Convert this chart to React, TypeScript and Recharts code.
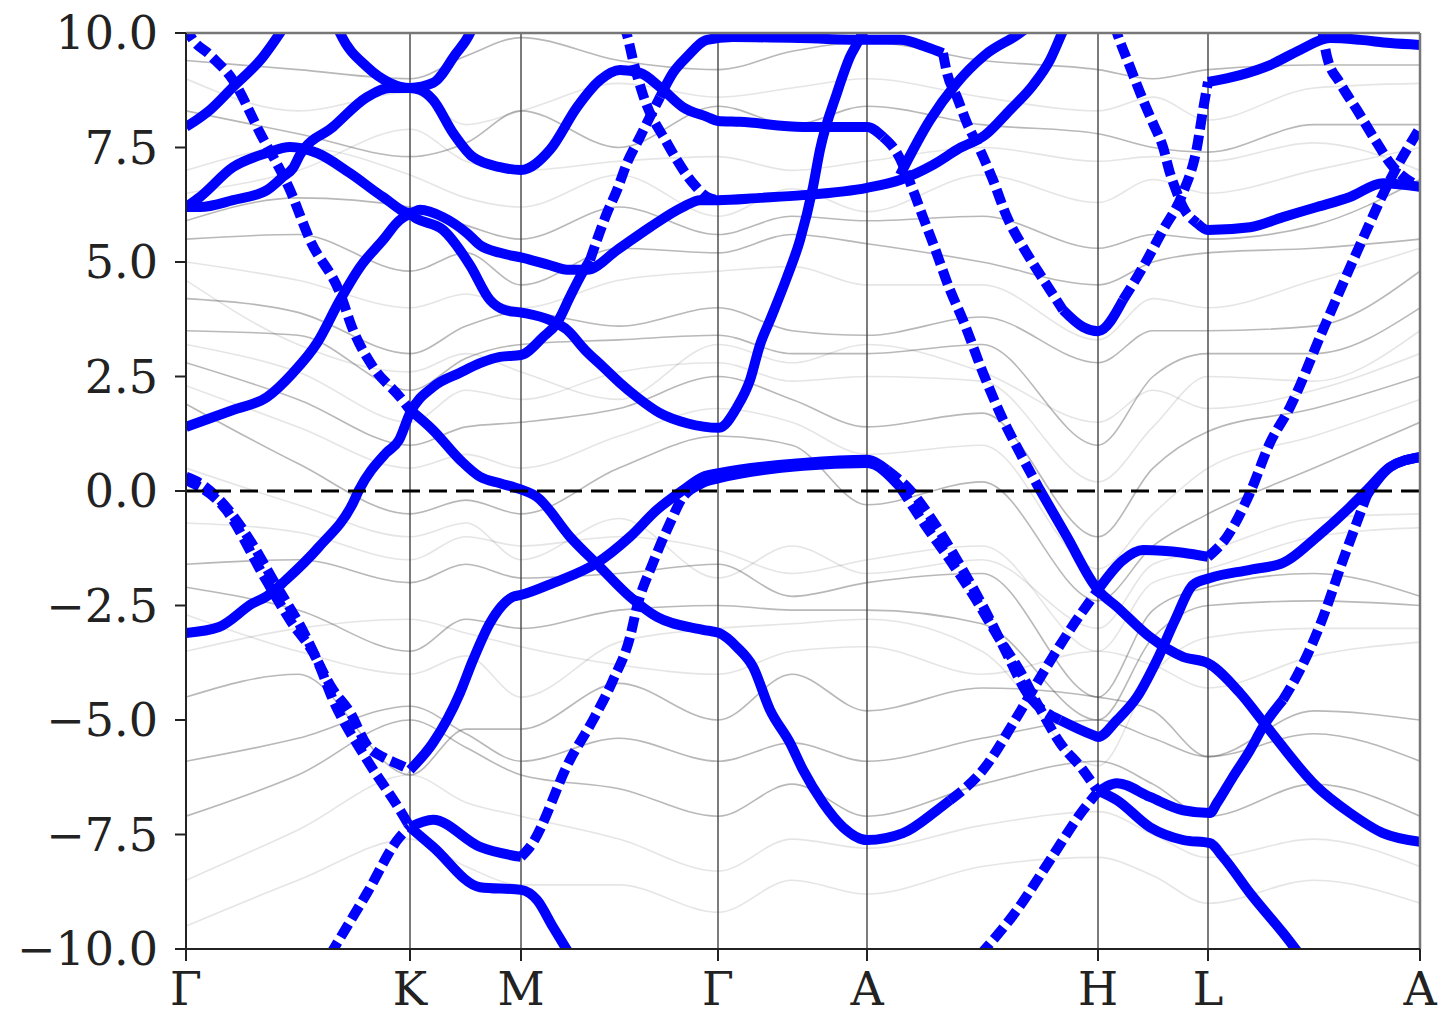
/** Band structure along Γ–K–M–Γ–A–H–L–A: projected (blue) bands over the full set (grey). */

import { LineChart, Line, XAxis, YAxis, ReferenceLine } from "recharts";

type Pt = [number, number];

// path positions of the high-symmetry points
const kTicks = [0, 224, 335, 532, 681, 912, 1022, 1234];
const kLabels = ["Γ", "K", "M", "Γ", "A", "H", "L", "A"];
const eTicks = [-10, -7.5, -5, -2.5, 0, 2.5, 5, 7.5, 10];

// grey bands, sampled at these path positions
const greyK = [0, 112, 224, 280, 335, 433, 532, 606, 681, 796, 912, 967, 1022, 1128, 1234];
const greyDark = [
  [9.4, 9.2, 9.0, 9.5, 9.9, 9.4, 9.2, 9.6, 9.8, 9.4, 9.2, 9.0, 9.2, 9.3, 9.3],
  [8.3, 7.8, 7.3, 7.6, 8.3, 7.5, 8.4, 8.0, 8.4, 8.0, 7.8, 7.5, 7.4, 8.0, 8.0],
  [5.9, 6.4, 6.2, 5.8, 5.5, 6.2, 5.6, 6.0, 5.9, 6.0, 5.3, 5.6, 5.5, 5.8, 6.8],
  [5.5, 5.6, 4.8, 5.2, 4.5, 5.3, 5.2, 5.6, 5.4, 5.0, 4.5, 5.0, 5.2, 5.3, 5.5],
  [4.2, 3.9, 3.0, 3.6, 3.9, 3.6, 4.0, 3.5, 3.4, 3.8, 2.8, 3.5, 3.5, 3.6, 4.8],
  [3.5, 3.4, 2.2, 2.9, 3.2, 3.3, 3.4, 3.0, 3.0, 3.2, 1.0, 2.5, 3.0, 3.0, 4.0],
  [2.8, 2.0, 1.0, 1.4, 1.5, 1.8, 2.5, 2.0, 1.4, 1.7, -1.0, 0.5, 1.3, 1.8, 2.5],
  [1.9, 0.6, -0.5, -0.2, -0.5, 0.5, 1.2, 1.0, -0.3, 0.2, -2.4, -1.2, -0.5, 0.5, 1.5],
  [-1.6, -1.5, -2.0, -1.6, -1.9, -1.8, -1.6, -2.3, -2.0, -1.8, -4.5, -2.6, -2.1, -1.8, -2.3],
  [-2.1, -2.6, -3.5, -2.8, -3.0, -2.6, -2.5, -2.6, -2.6, -2.9, -5.0, -3.2, -2.5, -2.4, -2.5],
  [-5.9, -5.4, -4.7, -5.3, -5.9, -5.4, -5.9, -5.5, -5.9, -5.4, -5.0, -5.4, -5.8, -5.3, -5.9],
  [-7.1, -6.2, -5.0, -5.6, -6.2, -6.5, -7.1, -6.4, -7.1, -6.4, -5.9, -6.4, -7.1, -6.4, -7.1],
  [-4.5, -4.0, -6.2, -5.2, -5.2, -4.2, -5.0, -4.0, -4.8, -4.3, -4.5, -4.8, -5.8, -4.8, -5.0],
];
const greyLight = [
  [9.0, 8.3, 8.7, 8.0, 8.3, 8.9, 8.6, 8.8, 9.0, 8.6, 8.3, 8.6, 8.1, 8.8, 8.9],
  [7.0, 7.5, 6.9, 6.4, 6.2, 6.9, 6.0, 6.6, 6.1, 6.9, 6.3, 6.8, 6.5, 7.0, 7.5],
  [6.5, 7.0, 7.9, 7.2, 7.0, 7.2, 7.3, 7.0, 7.2, 7.5, 7.2, 7.3, 7.2, 7.6, 7.0],
  [5.0, 4.6, 4.0, 4.3, 4.0, 4.6, 4.8, 4.9, 4.5, 4.5, 3.3, 4.2, 4.0, 4.6, 5.3],
  [3.2, 2.6, 1.5, 2.2, 2.0, 2.6, 2.8, 2.4, 2.5, 2.4, 0.2, 1.4, 2.5, 2.4, 3.5],
  [2.3, 1.4, 0.5, 0.8, 0.5, 1.2, 1.8, 1.5, 0.8, 1.0, -1.7, -0.5, 0.5, 1.2, 2.0],
  [4.6, 3.2, 2.6, 3.0, 2.6, 2.0, 3.2, 2.8, 3.2, 2.6, 1.5, 2.2, 1.8, 2.2, 3.0],
  [0.5, -0.3, -1.0, -0.7, -1.5, -0.6, -1.9, -1.2, -1.8, -1.5, -3.0, -1.6, -1.3, -0.6, -0.5],
  [-0.7, -0.9, -1.5, -1.0, -1.2, -1.0, -1.3, -1.8, -1.5, -1.2, -3.5, -2.0, -1.7, -1.0, -0.8],
  [-2.7, -3.5, -4.0, -3.6, -4.5, -3.3, -3.0, -2.9, -2.8, -3.5, -6.0, -4.0, -3.2, -3.0, -3.0],
  [-3.5, -3.0, -2.8, -3.1, -3.4, -3.8, -4.0, -3.5, -3.4, -4.0, -3.5, -3.8, -4.3, -3.6, -3.3],
  [-8.5, -7.4, -6.2, -6.8, -7.1, -7.6, -8.3, -7.6, -7.8, -7.3, -7.0, -7.5, -8.0, -7.6, -8.2],
  [-9.5, -8.5, -7.6, -8.2, -8.6, -8.6, -9.2, -8.5, -8.8, -8.2, -8.0, -8.4, -9.0, -8.5, -9.0],
];

// blue (projected) bands as [k, E] points
const bandA1: Pt[] = [
  [0, 10.15], [4, 9.96], [24, 9.52], [47, 8.97], [74, 7.82], [104, 6.57], [124, 5.48], [154, 4.32],
  [167, 3.52], [187, 2.71], [214, 2.05], [224, 1.77], [247, 1.33], [274, 0.68], [294, 0.31], [314, 0.17],
  [334, 0.04], [351, -0.13], [384, -1.0], [414, -1.66], [444, -2.31], [471, -2.75], [517, -3.03], [533, -3.1],
  [551, -3.41], [567, -3.84], [584, -4.78], [604, -5.5], [617, -6.09], [637, -6.81], [657, -7.34], [681, -7.62],
  [717, -7.47], [751, -6.97], [764, -6.75], [797, -6.09], [831, -4.93], [857, -3.97], [884, -3.03], [907, -2.31],
  [912, -2.16], [937, -1.51], [957, -1.29], [997, -1.35], [1022, -1.44], [1041, -1.0], [1064, -0.04], [1084, 1.05],
  [1104, 1.83], [1137, 3.52], [1174, 5.37], [1204, 6.79], [1234, 7.93],
];
const bandB: Pt[] = [[0, 7.95], [24, 8.32], [47, 8.82], [77, 9.48], [94, 10.0], [100, 10.2]];
const bandC1: Pt[] = [
  [0, 6.2], [14, 6.42], [47, 7.07], [81, 7.38], [104, 7.51], [131, 7.38], [164, 6.94], [197, 6.42], [224, 6.07],
  [234, 6.14], [257, 5.98], [281, 5.63], [294, 5.37], [314, 5.2], [337, 5.09], [364, 4.93], [381, 4.83], [401, 4.83],
  [431, 5.26], [464, 5.76], [497, 6.2], [514, 6.35], [532, 6.35], [574, 6.4], [617, 6.46], [681, 6.62], [714, 6.79],
  [747, 7.12], [774, 7.49], [799, 7.77], [824, 8.32], [847, 8.86], [864, 9.41], [876, 10.0], [880, 10.2],
];
const bandC2: Pt[] = [
  [0, 6.2], [14, 6.2], [47, 6.35], [81, 6.57], [97, 6.86], [107, 7.05], [114, 7.34], [147, 7.95], [181, 8.6],
  [204, 8.8], [224, 8.8], [234, 8.76], [247, 8.54], [267, 7.82], [287, 7.29], [314, 7.07], [335, 7.01], [364, 7.45],
  [391, 8.38], [414, 8.97], [434, 9.19], [454, 9.13], [474, 8.82], [497, 8.38], [521, 8.17], [532, 8.08], [554, 8.06],
  [617, 7.95], [681, 7.95], [697, 7.73], [711, 7.38], [727, 6.57], [737, 5.98], [747, 5.41], [764, 4.39], [777, 3.73],
  [797, 2.58], [814, 1.7], [834, 0.83], [854, 0.02], [881, -1.0], [907, -2.01], [912, -2.16], [931, -2.53],
  [964, -3.19], [997, -3.62], [1022, -3.76], [1054, -4.41], [1081, -5.15], [1131, -6.46], [1164, -7.03],
  [1197, -7.47], [1234, -7.66],
];
const bandU: Pt[] = [[150, 10.2], [154, 10.0], [181, 9.26], [204, 8.91], [224, 8.8], [247, 8.91], [269, 9.52], [284, 10.0], [288, 10.2]];
const bandG1: Pt[] = [
  [0, 1.4], [47, 1.77], [81, 2.05], [107, 2.58], [131, 3.23], [154, 4.17], [174, 4.89], [197, 5.48], [214, 5.92],
  [224, 6.03], [231, 5.94], [257, 5.7], [284, 4.93], [304, 4.17], [319, 3.95], [337, 3.89], [364, 3.73], [381, 3.52],
  [399, 3.08], [417, 2.71], [434, 2.36], [451, 2.05], [474, 1.7], [501, 1.48], [533, 1.38], [551, 1.83], [564, 2.42],
  [574, 3.19], [584, 3.73], [601, 4.67], [614, 5.48], [627, 6.64], [634, 7.45], [651, 8.69], [664, 9.48], [674, 9.89],
  [680, 10.2],
];
const bandTop: Pt[] = [
  [0, -3.1], [33, -2.97], [67, -2.45], [80, -2.31], [100, -1.94], [133, -1.22], [167, -0.26], [173, 0.02], [200, 0.83],
  [213, 1.11], [224, 1.7], [247, 2.27], [274, 2.58], [294, 2.79], [314, 2.93], [335, 2.97], [357, 3.36], [371, 3.67],
  [384, 4.24], [394, 4.67], [404, 5.04], [421, 6.07], [431, 6.57], [441, 7.16], [454, 7.73], [464, 8.17], [474, 8.6],
  [487, 9.13], [501, 9.48], [521, 9.85], [547, 9.91], [614, 9.89], [681, 9.85], [714, 9.85], [741, 9.69], [757, 9.56],
  [761, 9.13], [771, 8.6], [781, 8.03], [794, 7.45], [807, 6.79], [821, 5.98], [837, 5.33], [851, 4.83], [864, 4.39],
  [877, 3.95], [897, 3.58], [912, 3.49], [937, 4.17], [957, 4.89], [977, 5.7], [997, 6.51], [1011, 7.51], [1017, 8.32],
  [1022, 8.93], [1054, 9.08], [1084, 9.3], [1114, 9.63], [1144, 9.89], [1174, 9.85], [1204, 9.78], [1234, 9.74],
];
const bandDesc: Pt[] = [[437, 10.2], [441, 9.96], [447, 9.41], [457, 8.65], [481, 7.6], [507, 6.72], [521, 6.42], [533, 6.35]];
const bandR1: Pt[] = [[714, 6.9], [744, 8.1], [769, 8.86], [799, 9.52], [834, 10.0], [840, 10.1]];
const bandL57: Pt[] = [
  [928, 10.2], [931, 10.0], [944, 9.26], [957, 8.54], [967, 8.03], [977, 7.51], [984, 6.94], [991, 6.51], [997, 6.2],
  [1011, 5.85], [1022, 5.7], [1064, 5.76], [1097, 5.98], [1131, 6.2], [1164, 6.42], [1197, 6.72], [1234, 6.64],
];
const bandAdesc: Pt[] = [[1136, 10.1], [1141, 9.48], [1154, 8.91], [1171, 8.32], [1191, 7.6], [1204, 7.16], [1234, 6.64]];
const bandP: Pt[] = [
  [0, 0.31], [14, 0.17], [34, -0.2], [67, -1.18], [87, -1.94], [114, -2.93], [147, -4.34], [164, -4.83], [181, -5.55],
  [197, -5.81], [214, -5.98], [224, -6.09], [247, -5.5], [274, -4.41], [287, -3.69], [304, -2.88], [327, -2.31],
  [335, -2.27], [367, -2.01], [411, -1.57], [444, -1.0], [471, -0.41], [497, 0.02], [517, 0.31], [533, 0.39],
  [617, 0.61], [681, 0.68], [701, 0.46], [724, 0.02], [751, -0.79], [774, -1.62], [799, -2.6], [819, -3.47],
  [841, -4.41], [874, -5.0], [907, -5.33], [912, -5.37], [931, -5.0], [951, -4.5], [971, -3.69], [989, -2.82],
  [1007, -2.05], [1024, -1.9], [1064, -1.72], [1097, -1.57], [1131, -1.0], [1164, -0.35], [1181, 0.02], [1204, 0.52],
  [1234, 0.74],
];
const bandQ: Pt[] = [
  [0, 0.24], [40, -0.41], [77, -1.83], [104, -2.82], [131, -3.69], [147, -4.56], [181, -5.87], [214, -6.97],
  [224, -7.34], [247, -7.18], [294, -7.77], [335, -7.99], [344, -7.77], [384, -5.87], [407, -5.0], [427, -4.13],
  [444, -3.19], [451, -2.53], [467, -1.57], [484, -0.7], [497, -0.13], [504, 0.02], [519, 0.2], [533, 0.28],
  [617, 0.55], [681, 0.61], [714, 0.09], [739, -0.74], [764, -1.51], [789, -2.34], [814, -3.25], [834, -3.93],
  [851, -4.63], [874, -5.5], [897, -6.09], [911, -6.53], [931, -6.75], [964, -7.34], [997, -7.62], [1024, -7.69],
  [1037, -7.99], [1064, -8.78], [1097, -9.65], [1114, -10.13],
];
const bandBot1: Pt[] = [[144, -10.13], [181, -8.78], [214, -7.55], [224, -7.34], [247, -7.77], [294, -8.65], [335, -8.71], [351, -8.93], [367, -9.52], [384, -10.13]];
const bandBot2: Pt[] = [
  [794, -10.13], [831, -9.15], [864, -8.06], [897, -6.97], [911, -6.59], [931, -6.38], [964, -6.68], [997, -6.97],
  [1024, -7.03], [1031, -6.81], [1047, -6.24], [1064, -5.66], [1077, -5.15], [1097, -4.56], [1114, -3.91],
  [1134, -2.93], [1157, -1.51], [1181, -0.09], [1204, 0.52], [1234, 0.74],
];

// which stretches of each blue band are drawn broken (sparse markers in the original)
const blueBands: { pts: Pt[]; dashed: [number, number][] }[] = [
  { pts: bandA1, dashed: [[0, 224], [780, 912], [1022, 1234]] },
  { pts: bandB, dashed: [] },
  { pts: bandC1, dashed: [] },
  { pts: bandC2, dashed: [[697, 860]] },
  { pts: bandU, dashed: [] },
  { pts: bandG1, dashed: [] },
  { pts: bandTop, dashed: [[400, 470], [757, 880], [925, 1022]] },
  { pts: bandDesc, dashed: [[0, 1234]] },
  { pts: bandR1, dashed: [] },
  { pts: bandL57, dashed: [[928, 1005]] },
  { pts: bandAdesc, dashed: [[0, 1234]] },
  { pts: bandP, dashed: [[0, 224], [701, 890]] },
  { pts: bandQ, dashed: [[0, 224], [335, 510], [700, 911]] },
  { pts: bandBot1, dashed: [[144, 224]] },
  { pts: bandBot2, dashed: [[794, 911], [1090, 1190]] },
];

const BLUE = "#0000ff";
const FONT = "'DejaVu Serif', serif";

function splitBand(pts: Pt[], ranges: [number, number][]) {
  const isDash = (k: number) => ranges.some(([a, b]) => k >= a && k <= b);
  const segs: { dashed: boolean; data: { k: number; e: number }[] }[] = [];
  let cur: { dashed: boolean; data: { k: number; e: number }[] } | null = null;
  for (let i = 0; i < pts.length - 1; i++) {
    const d = isDash((pts[i][0] + pts[i + 1][0]) / 2);
    if (!cur || cur.dashed !== d) {
      cur = { dashed: d, data: [{ k: pts[i][0], e: pts[i][1] }] };
      segs.push(cur);
    }
    cur.data.push({ k: pts[i + 1][0], e: pts[i + 1][1] });
  }
  return segs;
}

const fmtE = (v: number) => (v < 0 ? "\u2212" : "") + Math.abs(v).toFixed(1);

export default function App() {
  const greyLines = [
    ...greyDark.map((b) => ({ b, op: 0.38 })),
    ...greyLight.map((b) => ({ b, op: 0.14 })),
  ];
  const blueSegs = blueBands.flatMap((band) => splitBand(band.pts, band.dashed));

  return (
    <div style={{ width: 1444, height: 1017, background: "#fff" }}>
      <style>{"body{margin:0}"}</style>
      <LineChart width={1444} height={1017} margin={{ top: 33, right: 24, bottom: 0, left: 0 }}>
        <XAxis
          dataKey="k"
          type="number"
          domain={[0, 1234]}
          allowDataOverflow
          ticks={kTicks}
          interval={0}
          tickFormatter={(v: number) => kLabels[kTicks.indexOf(v)] ?? ""}
          height={68}
          tickSize={12}
          tickMargin={11}
          axisLine={{ stroke: "#222", strokeWidth: 2 }}
          tickLine={{ stroke: "#222", strokeWidth: 2 }}
          tick={{ fill: "#222", fontSize: 46, fontFamily: FONT }}
        />
        <YAxis
          type="number"
          domain={[-10, 10]}
          allowDataOverflow
          ticks={eTicks}
          interval={0}
          tickFormatter={fmtE}
          width={186}
          tickSize={11}
          tickMargin={17}
          axisLine={{ stroke: "#222", strokeWidth: 2 }}
          tickLine={{ stroke: "#222", strokeWidth: 2 }}
          tick={{ fill: "#222", fontSize: 46, fontFamily: FONT }}
        />
        {greyLines.map(({ b, op }, i) => (
          <Line
            key={`g${i}`}
            data={greyK.map((k, j) => ({ k, e: b[j] }))}
            dataKey="e"
            type="monotone"
            stroke="#444"
            strokeOpacity={op}
            strokeWidth={1.6}
            dot={false}
            activeDot={false}
            legendType="none"
            isAnimationActive={false}
          />
        ))}
        {kTicks.slice(1, -1).map((k, i) => (
          <ReferenceLine key={`v${i}`} x={k} stroke="#444" strokeWidth={1.4} />
        ))}
        {blueSegs.map((s, i) => (
          <Line
            key={`b${i}`}
            data={s.data}
            dataKey="e"
            type="monotone"
            stroke={BLUE}
            strokeWidth={10}
            strokeDasharray={s.dashed ? "15 6" : undefined}
            dot={false}
            activeDot={false}
            legendType="none"
            isAnimationActive={false}
          />
        ))}
        <ReferenceLine y={0} stroke="#000" strokeWidth={3} strokeDasharray="18 9" />
        <ReferenceLine y={10} stroke="#777" strokeWidth={2.5} />
        <ReferenceLine x={1234} stroke="#777" strokeWidth={2.5} />
      </LineChart>
    </div>
  );
}
